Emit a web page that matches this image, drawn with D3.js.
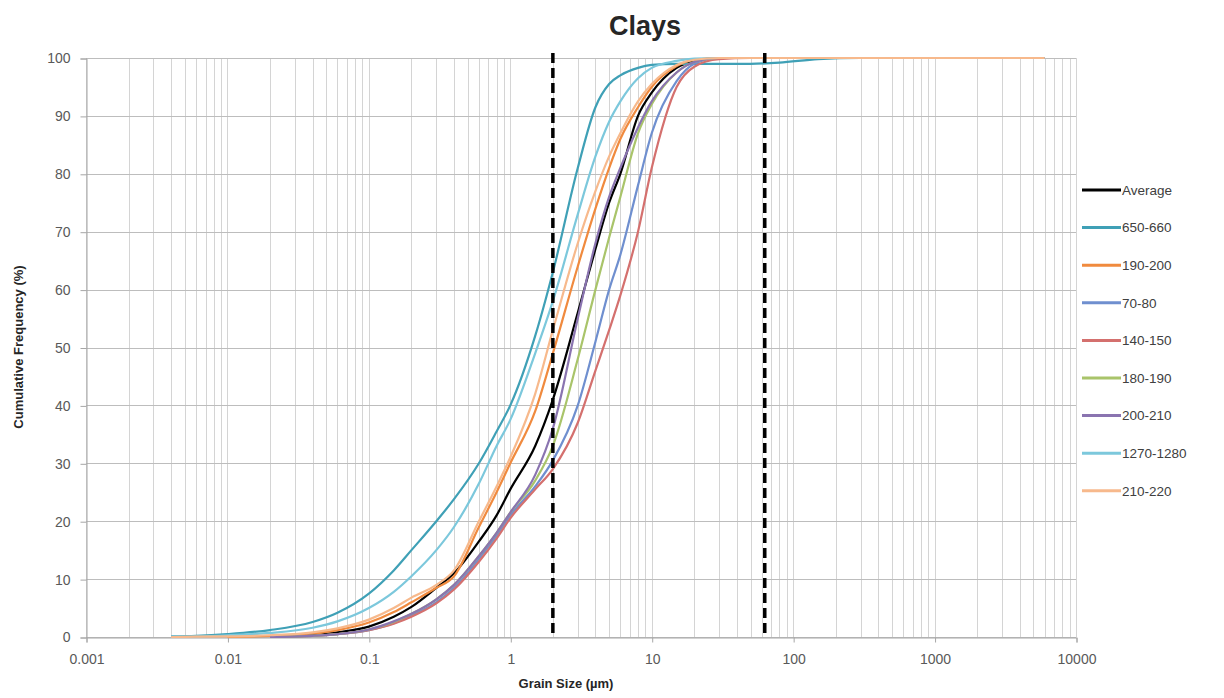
<!DOCTYPE html>
<html>
<head>
<meta charset="utf-8">
<script src="https://cdn.jsdelivr.net/npm/d3@7"></script>
<style>
  body { margin: 0; background: #fff; }
  text { font-family: "Liberation Sans", "DejaVu Sans", sans-serif; }
</style>
</head>
<body>
<script>
// grain sizes (µm) shared by all series
var sizes = [0.004, 0.006, 0.01, 0.02, 0.04, 0.06, 0.1, 0.15, 0.2, 0.3, 0.4, 0.6, 0.8, 1, 1.5, 2, 3, 4, 5, 6, 8, 10, 15, 20, 30, 50, 80, 150, 300, 1000, 3000, 6000];

// cumulative frequency (%) per sample, null = no data
var average   = [null, null, null, 0, 0.3, 0.8, 1.8, 3.5, 5.2, 8.5, 11, 16.5, 21, 25.5, 33, 41, 56, 67, 75, 80, 90, 94, 98.3, 99.5, 100, 100, 100, 100, 100, 100, 100, 100];
var s650_660  = [0.1, 0.2, 0.5, 1.2, 2.6, 4.2, 7.5, 11.5, 15, 20, 23.8, 30, 35.5, 40, 52, 63, 81, 91.5, 95.5, 97, 98.3, 98.8, 99, 99, 99, 99, 99.2, 99.8, 100, 100, 100, 100];
var s190_200  = [null, null, 0, 0.2, 0.6, 1.2, 2.5, 4.3, 6, 8.5, 10.5, 19, 25, 30, 39, 49, 64, 74, 81, 86, 91.5, 95, 98.6, 99.7, 100, 100, 100, 100, 100, 100, 100, 100];
var s70_80    = [null, null, null, 0, 0.2, 0.5, 1.2, 2.4, 3.7, 6, 8.5, 13.5, 17.5, 21, 26, 30.5, 40, 51, 60, 66, 78, 87, 96, 99, 100, 100, 100, 100, 100, 100, 100, 100];
var s140_150  = [null, null, null, 0, 0.2, 0.5, 1.2, 2.3, 3.5, 5.8, 8.2, 13, 17, 20.5, 25.5, 29, 37, 46, 53, 59, 70, 81, 95, 98.5, 99.8, 100, 100, 100, 100, 100, 100, 100];
var s180_190  = [null, null, null, 0, 0.2, 0.5, 1.3, 2.6, 4, 6.5, 9, 14, 18, 21.5, 27, 33, 48, 60, 69, 76, 87, 92, 97.5, 99.3, 100, 100, 100, 100, 100, 100, 100, 100];
var s200_210  = [null, null, null, 0, 0.2, 0.5, 1.3, 2.7, 4, 6.5, 9, 14, 18, 21.5, 28, 36, 55, 68, 76, 81, 88, 92.5, 97.5, 99.3, 100, 100, 100, 100, 100, 100, 100, 100];
var s1270_1280 = [0.05, 0.1, 0.3, 0.7, 1.6, 2.7, 5, 7.8, 10.5, 15, 19, 26.5, 33, 37.5, 49, 58, 73, 83, 89, 92.5, 96.5, 98.3, 99.5, 99.9, 100, 100, 100, 100, 100, 100, 100, 100];
var s210_220  = [0, 0.05, 0.1, 0.3, 0.8, 1.5, 3, 5, 6.8, 9, 11.5, 20, 26, 31, 42, 53, 68, 77, 83, 87, 92.5, 95.5, 98.8, 99.7, 100, 100, 100, 100, 100, 100, 100, 100];

var seriesNames  = ["Average", "650-660", "190-200", "70-80", "140-150", "180-190", "200-210", "1270-1280", "210-220"];
var seriesValues = [average, s650_660, s190_200, s70_80, s140_150, s180_190, s200_210, s1270_1280, s210_220];
var seriesColors = ["#000000", "#3fa0b6", "#f08a3e", "#6f8fcf", "#d4706e", "#a9c46a", "#8a74b0", "#7cc8dc", "#f7b98c"];

var xTicks = [0.001, 0.01, 0.1, 1, 10, 100, 1000, 10000];
var xTickLabels = ["0.001", "0.01", "0.1", "1", "10", "100", "1000", "10000"];
var yTicks = [0, 10, 20, 30, 40, 50, 60, 70, 80, 90, 100];
var boundaries = [2, 63]; // clay / silt / sand limits

var W = 1224, H = 698;
var plotLeft = 86, plotRight = 1076, plotTop = 58, plotBottom = 637;

var svg = d3.select("body").append("svg")
  .attr("width", W)
  .attr("height", H);

var x = d3.scaleLog().domain([0.001, 10000]).range([plotLeft, plotRight]);
var y = d3.scaleLinear().domain([0, 100]).range([plotBottom, plotTop]);

// vertical grid: every 1..9 in each decade
var minor = [];
for (var e = -3; e < 4; e++) {
  for (var m = 1; m < 10; m++) minor.push(m * Math.pow(10, e));
}
minor.push(10000);

svg.append("g").selectAll("line")
  .data(minor)
  .enter()
  .append("line")
  .attr("x1", function(d) { return Math.round(x(d)) + 0.5; })
  .attr("x2", function(d) { return Math.round(x(d)) + 0.5; })
  .attr("y1", plotTop)
  .attr("y2", plotBottom)
  .style("stroke", "#d4d4d4")
  .style("stroke-width", 1);

// horizontal grid
svg.append("g").selectAll("line")
  .data(yTicks)
  .enter()
  .append("line")
  .attr("x1", plotLeft)
  .attr("x2", plotRight)
  .attr("y1", function(d) { return Math.round(y(d)) + 0.5; })
  .attr("y2", function(d) { return Math.round(y(d)) + 0.5; })
  .style("stroke", "#bdbdbd")
  .style("stroke-width", 1);

// axes
var yAxis = d3.axisLeft(y).tickValues(yTicks).tickSize(6).tickPadding(10);
var gy = svg.append("g").attr("transform", "translate(" + (plotLeft + 0.5) + ",0.5)").call(yAxis);
var xAxis = d3.axisBottom(x).tickValues(xTicks)
  .tickFormat(function(d, i) { return xTickLabels[i]; })
  .tickSize(5).tickPadding(12);
var gx = svg.append("g").attr("transform", "translate(0.5," + (plotBottom + 0.5) + ")").call(xAxis);

[gx, gy].forEach(function(g) {
  g.select(".domain").style("stroke", "#a6a6a6");
  g.selectAll(".tick line").style("stroke", "#a6a6a6");
  g.selectAll(".tick text")
    .style("fill", "#595959")
    .style("font-size", "14px");
});

// curves
var line = d3.line()
  .defined(function(d) { return d[1] !== null; })
  .x(function(d) { return x(d[0]); })
  .y(function(d) { return y(d[1]); })
  .curve(d3.curveMonotoneX);

svg.append("g").selectAll("path")
  .data(seriesValues)
  .enter()
  .append("path")
  .attr("d", function(vals) {
    return line(sizes.map(function(s, i) { return [s, vals[i]]; }));
  })
  .style("fill", "none")
  .style("stroke", function(d, i) { return seriesColors[i]; })
  .style("stroke-width", 2.2)
  .style("stroke-linejoin", "round");

// dashed size boundaries
svg.append("g").selectAll("line")
  .data(boundaries)
  .enter()
  .append("line")
  .attr("x1", function(d) { return x(d); })
  .attr("x2", function(d) { return x(d); })
  .attr("y1", plotTop - 5)
  .attr("y2", plotBottom)
  .style("stroke", "#000")
  .style("stroke-width", 3.5)
  .style("stroke-dasharray", "10,5");

// titles
svg.append("text")
  .attr("x", 645)
  .attr("y", 35)
  .attr("text-anchor", "middle")
  .style("font-size", "27px")
  .style("font-weight", "bold")
  .style("fill", "#262626")
  .text("Clays");

svg.append("text")
  .attr("x", 566)
  .attr("y", 688)
  .attr("text-anchor", "middle")
  .style("font-size", "13px")
  .style("font-weight", "bold")
  .style("fill", "#262626")
  .text("Grain Size (µm)");

svg.append("text")
  .attr("transform", "translate(23,347) rotate(-90)")
  .attr("text-anchor", "middle")
  .style("font-size", "13px")
  .style("font-weight", "bold")
  .style("fill", "#262626")
  .text("Cumulative Frequency (%)");

// legend
var legend = svg.append("g").selectAll("g")
  .data(seriesNames)
  .enter()
  .append("g")
  .attr("transform", function(d, i) { return "translate(1082," + (190 + i * 37.6) + ")"; });

legend.append("line")
  .attr("x1", 0)
  .attr("x2", 39)
  .style("stroke", function(d, i) { return seriesColors[i]; })
  .style("stroke-width", 3);

legend.append("text")
  .attr("x", 40)
  .attr("dy", "0.35em")
  .style("font-size", "13.5px")
  .style("fill", "#404040")
  .text(function(d) { return d; });
</script>
</body>
</html>
